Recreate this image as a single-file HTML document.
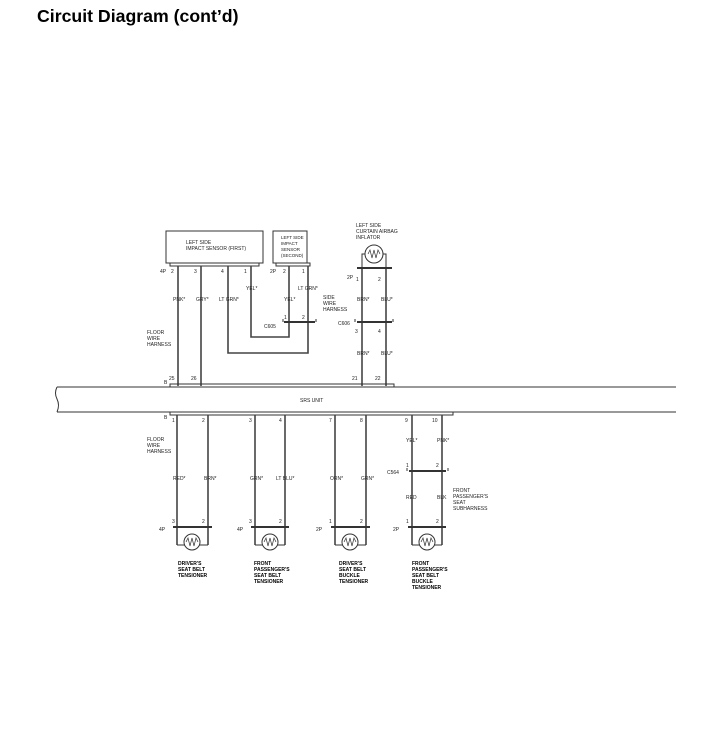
<!DOCTYPE html>
<html><head><meta charset="utf-8"><style>
body{margin:0;background:#fff;}
svg{display:block}
text{font-family:"Liberation Sans",sans-serif;fill:#222}
.t{font-size:5px}
.s{font-size:4.5px}
.b{font-size:5px;font-weight:bold;fill:#000}
</style></head><body>
<svg width="717" height="750" viewBox="0 0 717 750" xmlns="http://www.w3.org/2000/svg">
<text x="37" y="22" style="font-size:17.7px;font-weight:bold;fill:#000">Circuit Diagram (cont’d)</text>
<g stroke="#333" fill="none" stroke-width="1">
<rect x="166" y="231" width="97" height="32"/>
<rect x="273" y="231" width="34" height="32"/>
<rect x="170" y="263" width="89" height="3"/>
<rect x="276" y="263" width="34" height="3"/>
<g stroke-width="1.6" stroke="#444">
<line x1="178" y1="266" x2="178" y2="386"/>
<line x1="201" y1="266" x2="201" y2="386"/>
<polyline points="228,266 228,353 308,353 308,266"/>
<polyline points="251,266 251,337 289,337 289,266"/>
<line x1="362" y1="268" x2="362" y2="386"/>
<line x1="386" y1="268" x2="386" y2="386"/>
</g>
<line x1="284" y1="322" x2="315" y2="322" stroke-width="2"/>
<polyline points="283,319 283,322" /><polyline points="316,319 316,322"/>
<circle cx="374" cy="254" r="9"/>
<polyline points="365,254 362,254 362,268"/><polyline points="383,254 386,254 386,268"/>
<polyline points="368,254 370,250 372,258 374,250 376,258 378,250 380,254" stroke-width="0.7"/>
<line x1="357" y1="268" x2="392" y2="268" stroke-width="2"/>
<line x1="357" y1="322" x2="392" y2="322" stroke-width="2"/>
<polyline points="355,319 355,322"/><polyline points="393,319 393,322"/>
<line x1="57" y1="387" x2="676" y2="387"/>
<line x1="57" y1="412" x2="676" y2="412"/>
<path d="M57 387 Q54 393 57 399 Q60 405 57 412"/>
<rect x="170" y="384" width="224" height="3"/>
<rect x="170" y="412" width="283" height="3"/>
<g stroke-width="1.6" stroke="#444">
<line x1="177" y1="415" x2="177" y2="545"/>
<line x1="208" y1="415" x2="208" y2="545"/>
<line x1="255" y1="415" x2="255" y2="545"/>
<line x1="285" y1="415" x2="285" y2="545"/>
<line x1="335" y1="415" x2="335" y2="545"/>
<line x1="366" y1="415" x2="366" y2="545"/>
<line x1="412" y1="415" x2="412" y2="545"/>
<line x1="442" y1="415" x2="442" y2="545"/>
</g>
<line x1="409" y1="471" x2="446" y2="471" stroke-width="2"/>
<polyline points="407,468 407,471"/><polyline points="448,468 448,471"/>
<g>
<line x1="173" y1="527" x2="212" y2="527" stroke-width="2"/><line x1="177" y1="545" x2="208" y2="545"/><circle cx="192" cy="542" r="8" fill="#fff"/>
<line x1="251" y1="527" x2="289" y2="527" stroke-width="2"/><line x1="255" y1="545" x2="285" y2="545"/><circle cx="270" cy="542" r="8" fill="#fff"/>
<line x1="331" y1="527" x2="370" y2="527" stroke-width="2"/><line x1="335" y1="545" x2="366" y2="545"/><circle cx="350" cy="542" r="8" fill="#fff"/>
<line x1="408" y1="527" x2="446" y2="527" stroke-width="2"/><line x1="412" y1="545" x2="442" y2="545"/><circle cx="427" cy="542" r="8" fill="#fff"/>
</g>
<g stroke-width="0.7">
<polyline points="186,542 188,538 190,546 192,538 194,546 196,538 198,542"/>
<polyline points="264,542 266,538 268,546 270,538 272,546 274,538 276,542"/>
<polyline points="344,542 346,538 348,546 350,538 352,546 354,538 356,542"/>
<polyline points="421,542 423,538 425,546 427,538 429,546 431,538 433,542"/>
</g>
</g>
<text class="t" x="186" y="244">LEFT SIDE</text><text class="t" x="186" y="250">IMPACT SENSOR (FIRST)</text>
<text class="s" x="281" y="239">LEFT SIDE</text><text class="s" x="281" y="245">IMPACT</text><text class="s" x="281" y="251">SENSOR</text><text class="s" x="281" y="257">(SECOND)</text>
<text class="t" x="356" y="227">LEFT SIDE</text><text class="t" x="356" y="233">CURTAIN AIRBAG</text><text class="t" x="356" y="239">INFLATOR</text>
<text class="t" x="160" y="273">4P</text><text class="t" x="171" y="273">2</text><text class="t" x="194" y="273">3</text><text class="t" x="221" y="273">4</text><text class="t" x="244" y="273">1</text>
<text class="t" x="270" y="273">2P</text><text class="t" x="283" y="273">2</text><text class="t" x="302" y="273">1</text>
<text class="t" x="347" y="279">2P</text><text class="t" x="356" y="281">1</text><text class="t" x="378" y="281">2</text>
<text class="t" x="173" y="301">PNK*</text><text class="t" x="196" y="301">GRY*</text><text class="t" x="219" y="301">LT GRN*</text>
<text class="t" x="246" y="290">YEL*</text><text class="t" x="298" y="290">LT GRN*</text><text class="t" x="284" y="301">YEL*</text>
<text class="t" x="323" y="299">SIDE</text><text class="t" x="323" y="305">WIRE</text><text class="t" x="323" y="311">HARNESS</text>
<text class="t" x="357" y="301">BRN*</text><text class="t" x="381" y="301">BLU*</text>
<text class="t" x="284" y="319">1</text><text class="t" x="302" y="319">2</text><text class="t" x="264" y="328">C605</text>
<text class="t" x="338" y="325">C606</text><text class="t" x="355" y="333">3</text><text class="t" x="378" y="333">4</text>
<text class="t" x="357" y="355">BRN*</text><text class="t" x="381" y="355">BLU*</text>
<text class="t" x="147" y="334">FLOOR</text><text class="t" x="147" y="340">WIRE</text><text class="t" x="147" y="346">HARNESS</text>
<text class="t" x="164" y="384">B</text><text class="t" x="169" y="380">25</text><text class="t" x="191" y="380">26</text><text class="t" x="352" y="380">21</text><text class="t" x="375" y="380">22</text>
<text class="t" x="300" y="402">SRS UNIT</text>
<text class="t" x="164" y="419">B</text>
<text class="t" x="172" y="422">1</text><text class="t" x="202" y="422">2</text><text class="t" x="249" y="422">3</text><text class="t" x="279" y="422">4</text>
<text class="t" x="329" y="422">7</text><text class="t" x="360" y="422">8</text><text class="t" x="405" y="422">9</text><text class="t" x="432" y="422">10</text>
<text class="t" x="147" y="441">FLOOR</text><text class="t" x="147" y="447">WIRE</text><text class="t" x="147" y="453">HARNESS</text>
<text class="t" x="406" y="442">YEL*</text><text class="t" x="437" y="442">PNK*</text>
<text class="t" x="406" y="467">1</text><text class="t" x="436" y="467">2</text><text class="t" x="387" y="474">C564</text>
<text class="t" x="173" y="480">RED*</text><text class="t" x="204" y="480">BRN*</text><text class="t" x="250" y="480">GRN*</text><text class="t" x="276" y="480">LT BLU*</text>
<text class="t" x="330" y="480">ORN*</text><text class="t" x="361" y="480">GRN*</text>
<text class="t" x="406" y="499">RED</text><text class="t" x="437" y="499">BLK</text>
<text class="t" x="453" y="492">FRONT</text><text class="t" x="453" y="498">PASSENGER'S</text><text class="t" x="453" y="504">SEAT</text><text class="t" x="453" y="510">SUBHARNESS</text>
<text class="t" x="172" y="523">3</text><text class="t" x="202" y="523">2</text><text class="t" x="249" y="523">3</text><text class="t" x="279" y="523">2</text>
<text class="t" x="329" y="523">1</text><text class="t" x="360" y="523">2</text><text class="t" x="406" y="523">1</text><text class="t" x="436" y="523">2</text>
<text class="t" x="159" y="531">4P</text><text class="t" x="237" y="531">4P</text><text class="t" x="316" y="531">2P</text><text class="t" x="393" y="531">2P</text>
<text class="b" x="178" y="565">DRIVER'S</text><text class="b" x="178" y="571">SEAT BELT</text><text class="b" x="178" y="577">TENSIONER</text>
<text class="b" x="254" y="565">FRONT</text><text class="b" x="254" y="571">PASSENGER'S</text><text class="b" x="254" y="577">SEAT BELT</text><text class="b" x="254" y="583">TENSIONER</text>
<text class="b" x="339" y="565">DRIVER'S</text><text class="b" x="339" y="571">SEAT BELT</text><text class="b" x="339" y="577">BUCKLE</text><text class="b" x="339" y="583">TENSIONER</text>
<text class="b" x="412" y="565">FRONT</text><text class="b" x="412" y="571">PASSENGER'S</text><text class="b" x="412" y="577">SEAT BELT</text><text class="b" x="412" y="583">BUCKLE</text><text class="b" x="412" y="589">TENSIONER</text>
</svg>
</body></html>
